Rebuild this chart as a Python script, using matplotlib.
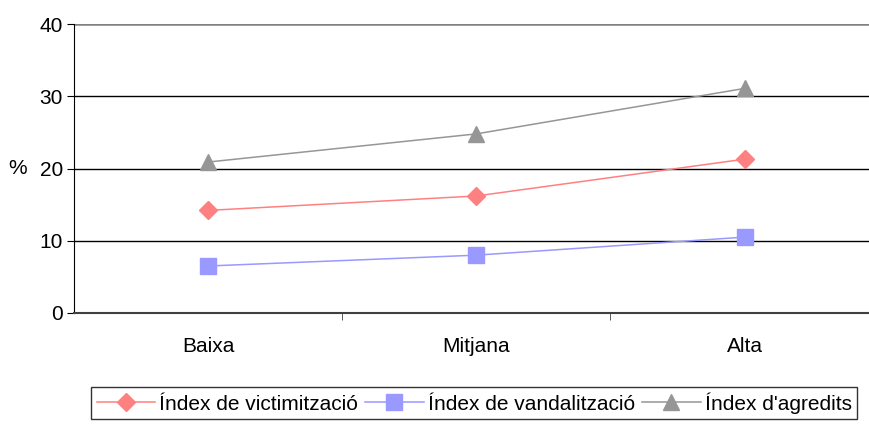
import matplotlib.pyplot as plt
from matplotlib.ticker import FixedLocator

plt.rcParams['font.family'] = ['Liberation Sans', 'DejaVu Sans']

categories = ['Baixa', 'Mitjana', 'Alta']
victimitzacio = [14.2, 16.2, 21.3]
vandalitzacio = [6.5, 8.0, 10.5]
agredits = [20.9, 24.8, 31.1]
labels = ['Índex de victimització', 'Índex de vandalització', "Índex d'agredits"]

fig = plt.figure(figsize=(8.7, 4.24), dpi=100)
ax = fig.add_axes([0.085, 0.262, 0.925, 0.681])

x = range(len(categories))
ax.plot(x, victimitzacio, color='#FF8080', lw=1.1, marker='D', ms=9, label=labels[0])
ax.plot(x, vandalitzacio, color='#9999FF', lw=1.1, marker='s', ms=11, label=labels[1])
ax.plot(x, agredits, color='#969696', lw=1.1, marker='^', ms=11.5, label=labels[2])

ax.set_xlim(-0.5, 2.5)
ax.set_ylim(0, 40)
ax.set_yticks([0, 10, 20, 30, 40])
for v in [10, 20, 30]:
    ax.axhline(v, color='black', lw=1, zorder=0)
ax.axhline(40, color='#808080', lw=1.8, zorder=0)

ax.set_xticks(list(x))
ax.set_xticklabels(categories)
ax.tick_params(axis='x', length=0, pad=17, labelsize=15)
ax.xaxis.set_minor_locator(FixedLocator([0.5, 1.5]))
ax.tick_params(axis='x', which='minor', length=5, color='#404040')
ax.tick_params(axis='y', length=5, labelsize=15, pad=3)

for s in ['top', 'right']:
    ax.spines[s].set_visible(False)
ax.spines['left'].set_color('black')
ax.spines['bottom'].set_color('#404040')
ax.spines['bottom'].set_linewidth(1.5)

ax.set_ylabel('%', rotation=0, fontsize=15, va='center')
ax.yaxis.set_label_coords(-0.07, 0.5)

leg = fig.legend(loc='center', bbox_to_anchor=(0.545, 0.05), ncol=3, fontsize=15,
                 frameon=True, fancybox=False, edgecolor='black', handlelength=2.8,
                 columnspacing=0.35, handletextpad=0.2, borderpad=0.25, borderaxespad=0)
leg.get_frame().set_linewidth(1)

fig.savefig('out.png', dpi=100)
